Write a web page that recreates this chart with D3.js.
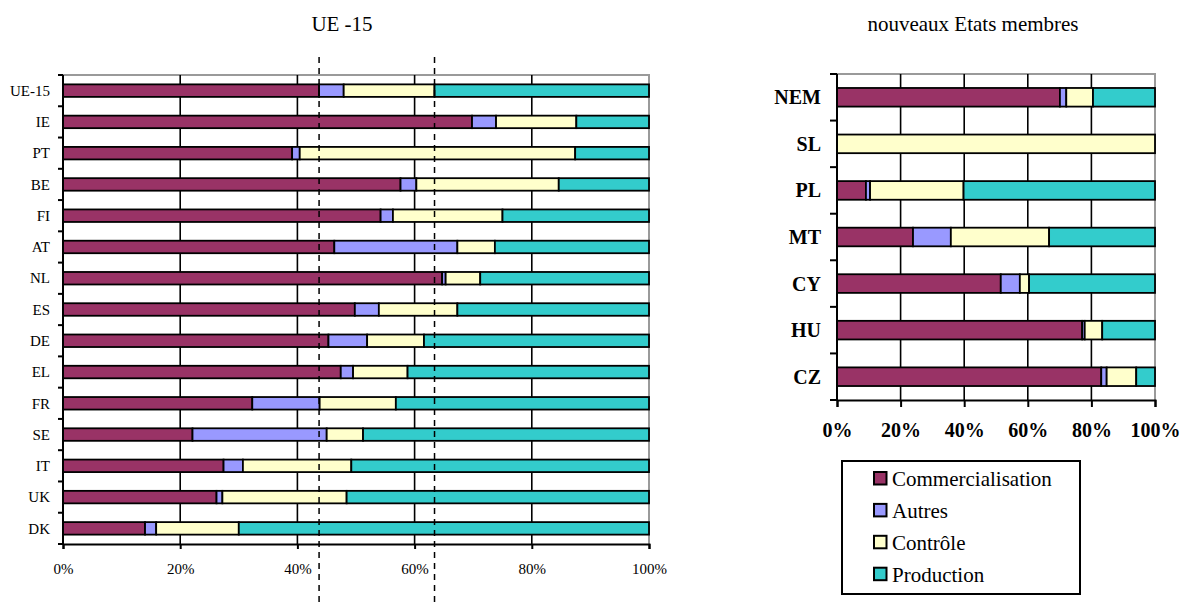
<!DOCTYPE html>
<html>
<head>
<meta charset="utf-8">
<script src="https://cdn.jsdelivr.net/npm/d3@7"></script>
<style>
  html, body { margin: 0; padding: 0; background: #fff; }
  svg, svg text { font-family: "Liberation Serif", "Times New Roman", serif; }
</style>
</head>
<body>
<svg id="chart" width="1184" height="605"></svg>
<script>
// Répartition des dépenses par fonction (en %)
const seriesNames = ["Commercialisation", "Autres", "Contrôle", "Production"];
const seriesColors = ["#993366", "#9999FF", "#FFFFCC", "#33CCCC"];

// UE-15
const ueCountries      = ["UE-15", "IE", "PT", "BE", "FI", "AT", "NL", "ES", "DE", "EL", "FR", "SE", "IT", "UK", "DK"];
const ueCommercial     = [43.7, 69.8, 39.1, 57.6, 54.2, 46.3, 64.7, 49.8, 45.3, 47.4, 32.3, 22.1, 27.4, 26.2, 14.0];
const ueAutres         = [ 4.2,  4.1,  1.3,  2.7,  2.1, 21.0,  0.6,  4.1,  6.6,  2.1, 11.5, 22.9,  3.3,  1.0,  1.9];
const ueControle       = [15.5, 13.7, 47.0, 24.3, 18.7,  6.4,  5.9, 13.4,  9.7,  9.3, 13.0,  6.2, 18.5, 21.2, 14.1];
const ueProduction     = [36.6, 12.4, 12.6, 15.4, 25.0, 26.3, 28.8, 32.7, 38.4, 41.2, 43.2, 48.8, 50.8, 51.6, 70.0];

// Nouveaux Etats membres
const nemCountries     = ["NEM", "SL", "PL", "MT", "CY", "HU", "CZ"];
const nemCommercial    = [70.1,   0,  9.1, 23.9, 51.5, 77.1, 83.1];
const nemAutres        = [ 2.0,   0,  1.3, 11.9,  6.0,  0.8,  1.7];
const nemControle      = [ 8.4, 100, 29.4, 30.9,  2.9,  5.5,  9.3];
const nemProduction    = [19.5,   0, 60.2, 33.3, 39.6, 16.6,  5.9];

const percentTicks = [0, 20, 40, 60, 80, 100];

const FONT = '"Liberation Serif", "Times New Roman", serif';
const svg = d3.select("#chart");

function stackRows(countries, cols) {
  return countries.map((c, i) => {
    let x0 = 0;
    const segs = cols.map((col, s) => {
      const seg = { country: c, series: s, x0: x0, x1: x0 + col[i] };
      x0 += col[i];
      return seg;
    });
    return { country: c, segs };
  });
}

function drawPanel(opt) {
  const g = svg.append("g");
  const x = d3.scaleLinear().domain([0, 100]).range([opt.x0, opt.x1]);
  const y = d3.scaleBand().domain(opt.countries).range([opt.y0, opt.y1])
    .paddingInner(0.6).paddingOuter(0.3);

  // plot frame (grey top / right edge)
  g.append("path")
    .attr("d", `M${opt.x0},${opt.y0}H${opt.x1}V${opt.y1}`)
    .attr("fill", "none").attr("stroke", "#9a9a9a").attr("stroke-width", 2);

  // vertical gridlines
  g.selectAll("line.grid").data(percentTicks.filter(t => t > 0 && t < 100)).join("line")
    .attr("x1", d => x(d)).attr("x2", d => x(d))
    .attr("y1", opt.y0).attr("y2", opt.y1)
    .attr("stroke", "#000").attr("stroke-width", 1.6);

  // stacked bars
  const rows = stackRows(opt.countries, opt.cols);
  g.selectAll("g.row").data(rows).join("g")
    .selectAll("rect").data(d => d.segs.filter(s => s.x1 - s.x0 > 0)).join("rect")
    .attr("x", d => x(d.x0)).attr("width", d => x(d.x1) - x(d.x0))
    .attr("y", d => y(d.country)).attr("height", y.bandwidth())
    .attr("fill", d => seriesColors[d.series])
    .attr("stroke", "#000").attr("stroke-width", 1.8);

  // category axis: line + boundary ticks
  g.append("line").attr("x1", opt.x0).attr("x2", opt.x0)
    .attr("y1", opt.y0).attr("y2", opt.y1)
    .attr("stroke", "#000").attr("stroke-width", 2);
  const step = y.step();
  g.selectAll("line.ctick").data(d3.range(opt.countries.length + 1)).join("line")
    .attr("x1", opt.x0 - opt.tick).attr("x2", opt.x0)
    .attr("y1", i => opt.y0 + i * step).attr("y2", i => opt.y0 + i * step)
    .attr("stroke", "#000").attr("stroke-width", 2);
  g.selectAll("text.cat").data(opt.countries).join("text")
    .attr("x", opt.x0 - opt.labelGap).attr("y", d => y(d) + y.bandwidth() / 2)
    .attr("dy", "0.35em").attr("text-anchor", "end")
    .style("font-family", FONT)
    .style("font-size", opt.catSize + "px").style("font-weight", opt.bold ? "bold" : "normal")
    .text(d => d);

  // value axis
  const ax = d3.axisBottom(x).tickValues(percentTicks)
    .tickFormat(d => d + "%").tickSize(opt.tick).tickPadding(opt.valuePad);
  const axG = g.append("g").attr("transform", `translate(0,${opt.y1})`).call(ax)
    .attr("font-family", null).attr("font-size", null);
  axG.select(".domain").attr("stroke", "#000").attr("stroke-width", 2);
  axG.selectAll(".tick line").attr("stroke", "#000").attr("stroke-width", 2);
  axG.selectAll(".tick text")
    .style("font-family", FONT)
    .style("font-size", opt.valueSize + "px").style("font-weight", opt.bold ? "bold" : "normal")
    .attr("fill", "#000");

  // title
  svg.append("text").attr("x", opt.titleX).attr("y", 31).attr("text-anchor", "middle")
    .style("font-family", FONT).style("font-size", "21px").text(opt.title);

  return { x, y };
}

const left = drawPanel({
  countries: ueCountries, cols: [ueCommercial, ueAutres, ueControle, ueProduction],
  x0: 63, x1: 649, y0: 75, y1: 544, tick: 5, labelGap: 13, catSize: 15,
  valueSize: 15, valuePad: 14, bold: false, title: "UE -15", titleX: 342
});

drawPanel({
  countries: nemCountries, cols: [nemCommercial, nemAutres, nemControle, nemProduction],
  x0: 837, x1: 1155, y0: 74, y1: 400, tick: 7, labelGap: 16, catSize: 20,
  valueSize: 20, valuePad: 16, bold: true, title: "nouveaux Etats membres", titleX: 973
});

// reference lines at the UE-15 averages (end of Commercialisation and of Contrôle)
const ueRef = [ueCommercial[0], ueCommercial[0] + ueAutres[0] + ueControle[0]];
svg.selectAll("line.ref").data(ueRef).join("line")
  .attr("x1", d => left.x(d)).attr("x2", d => left.x(d))
  .attr("y1", 57).attr("y2", 605)
  .attr("stroke", "#000").attr("stroke-width", 1.5).attr("stroke-dasharray", "6,5");

// legend
const lg = svg.append("g");
lg.append("rect").attr("x", 842).attr("y", 461).attr("width", 238).attr("height", 133)
  .attr("fill", "#fff").attr("stroke", "#000").attr("stroke-width", 2);
const items = lg.selectAll("g.item").data(seriesNames).join("g")
  .attr("transform", (d, i) => `translate(874,${478.5 + i * 31.9})`);
items.append("rect").attr("x", 0).attr("y", -6.5).attr("width", 12.5).attr("height", 12.5)
  .attr("fill", (d, i) => seriesColors[i]).attr("stroke", "#000").attr("stroke-width", 2);
items.append("text").attr("x", 18).attr("y", 0).attr("dy", "0.35em")
  .style("font-family", FONT).style("font-size", "21px").text(d => d);
</script>
</body>
</html>
